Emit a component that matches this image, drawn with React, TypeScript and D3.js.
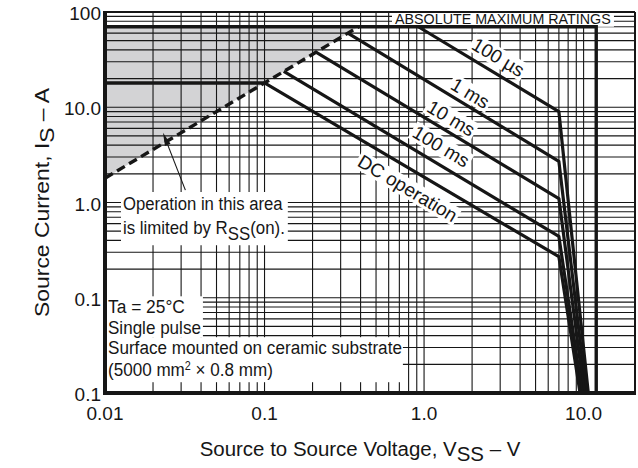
import React, { useEffect, useRef } from 'react';
import * as d3 from 'd3';

const WIDTH = 638;
const HEIGHT = 468;
const PLOT = { left: 105, right: 635, top: 12, bottom: 393 };
const FONT = '"Liberation Sans", Arial, Helvetica, sans-serif';
const INK = '#161616';

// Axis domains: source-to-source voltage (V) and source current (A)
const V_DOMAIN: [number, number] = [0.01, 21];
const I_DOMAIN: [number, number] = [0.01, 100];

const xTickValues = [0.01, 0.1, 1, 10];
const xTickLabels = ['0.01', '0.1', '1.0', '10.0'];
const yTickValues = [100, 10, 1, 0.1, 0.01];
const yTickLabels = ['100', '10.0', '1.0', '0.1', '0.1'];

// Safe operating area boundaries, points as [V_SS (V), I_S (A)]
const soa100us: [number, number][] = [[0.92, 70], [7.0, 9.0], [10.7, 0.01]];
const soa1ms: [number, number][] = [[0.333, 60], [7.0, 2.7], [10.4, 0.01]];
const soa10ms: [number, number][] = [[0.21, 37.8], [7.0, 1.1], [10.1, 0.01]];
const soa100ms: [number, number][] = [[0.132, 23.8], [7.0, 0.44], [9.8, 0.01]];
const soaDC: [number, number][] = [[0.1, 18], [7.0, 0.27], [9.5, 0.01]];
const soaCurves = [soa100us, soa1ms, soa10ms, soa100ms, soaDC];

// DC current limit from the axis to the start of the DC curve
const dcCurrentLimit: [number, number][] = [[0.01, 18], [0.1, 18]];
// On-resistance limit (dashed)
const rssLimit: [number, number][] = [[0.01, 1.8], [0.389, 70]];
// Region limited by R_SS(on)
const rssRegion: [number, number][] = [[0.01, 70], [0.01, 1.8], [0.389, 70]];
// Absolute maximum ratings: I_S = 70 A, V_SS = 12 V
const absMax: [number, number][] = [[0.01, 70], [12, 70], [12, 0.01]];

// Curve names and where they sit, as [V, I]
const curveNames = ['100 µs', '1 ms', '10 ms', '100 ms', 'DC operation'];
const curveNameAt: [number, number][] = [[2.92, 33.7], [1.95, 14.1], [1.48, 7.7], [1.28, 3.9], [0.79, 1.42]];

// Arrow pointing into the R_SS(on)-limited area, [tail, tip] as [V, I]
const arrowTail: [number, number] = [0.0319, 1.35];
const arrowTip: [number, number] = [0.0231, 5.4];

type Sel = d3.Selection<any, unknown, null, undefined>;

// Squeeze or stretch a text horizontally to a given width, about anchorX
function fitWidth(t: Sel, target: number, anchorX: number) {
  const node = t.node() as SVGTextElement;
  const w = node.getBBox().width;
  if (w > 0) {
    const s = target / w;
    t.attr('transform', `translate(${anchorX},0) scale(${s},1) translate(${-anchorX},0)`);
  }
}

// Bounding box of several elements in svg user space
function boxOf(nodes: SVGGraphicsElement[]) {
  let x0 = Infinity, y0 = Infinity, x1 = -Infinity, y1 = -Infinity;
  nodes.forEach((n) => {
    const b = n.getBBox();
    const m = n.getCTM();
    const pm = (n.ownerSVGElement as SVGSVGElement).getCTM();
    const corners = [
      [b.x, b.y], [b.x + b.width, b.y], [b.x, b.y + b.height], [b.x + b.width, b.y + b.height],
    ];
    corners.forEach(([cx, cy]) => {
      let px = cx, py = cy;
      if (m) {
        px = m.a * cx + m.c * cy + m.e;
        py = m.b * cx + m.d * cy + m.f;
        if (pm) {
          px -= pm.e;
          py -= pm.f;
        }
      }
      x0 = Math.min(x0, px); y0 = Math.min(y0, py);
      x1 = Math.max(x1, px); y1 = Math.max(y1, py);
    });
  });
  return { x0, y0, x1, y1 };
}

export default function App() {
  const ref = useRef<SVGSVGElement>(null);

  useEffect(() => {
    const svg = d3.select(ref.current as SVGSVGElement);
    svg.selectAll('*').remove();

    const x = d3.scaleLog().domain(V_DOMAIN).range([PLOT.left, PLOT.right]);
    const y = d3.scaleLog().domain(I_DOMAIN).range([PLOT.bottom, PLOT.top]);
    const line = d3.line<[number, number]>().x((d) => x(d[0])).y((d) => y(d[1]));

    svg.append('rect').attr('width', WIDTH).attr('height', HEIGHT).attr('fill', '#fff');

    // shaded R_SS(on)-limited region
    svg.append('path')
      .attr('d', line(rssRegion) + 'Z')
      .attr('fill', '#d3d3d5');

    // log grid
    const grid = svg.append('g').attr('stroke', INK).attr('stroke-width', 1.1);
    x.ticks().filter((v) => v <= 10 + 1e-9).forEach((v) => {
      grid.append('line')
        .attr('x1', x(v)).attr('x2', x(v))
        .attr('y1', PLOT.top).attr('y2', PLOT.bottom);
    });
    y.ticks().forEach((v) => {
      grid.append('line')
        .attr('x1', PLOT.left).attr('x2', PLOT.right)
        .attr('y1', y(v)).attr('y2', y(v));
    });

    const boxes = svg.append('g');
    const marks = svg.append('g');
    const texts = svg.append('g').attr('font-family', FONT).attr('fill', INK);

    // ---- annotation texts (white boxes are sized after layout) ----
    const absText = texts.append('text')
      .attr('x', 395).attr('y', 24).attr('font-size', 15)
      .text('ABSOLUTE MAXIMUM RATINGS');
    fitWidth(absText, 216, 395);
    {
      const b = boxOf([absText.node() as SVGTextElement]);
      boxes.append('rect')
        .attr('x', b.x0 - 3).attr('y', PLOT.top)
        .attr('width', b.x1 - b.x0 + 6).attr('height', y(70) - PLOT.top)
        .attr('fill', '#fff');
    }

    const op1 = texts.append('text')
      .attr('x', 123).attr('y', 210).attr('font-size', 19)
      .text('Operation in this area');
    fitWidth(op1, 160, 123);
    const op2 = texts.append('text')
      .attr('x', 123).attr('y', 234).attr('font-size', 19);
    op2.append('tspan').text('is limited by R');
    op2.append('tspan').attr('dy', 6).text('SS');
    op2.append('tspan').attr('dy', -6).text('(on).');
    fitWidth(op2, 162, 123);
    {
      const b = boxOf([op1.node() as SVGTextElement, op2.node() as SVGTextElement]);
      boxes.append('rect')
        .attr('x', b.x0 - 2).attr('y', b.y0 - 1)
        .attr('width', b.x1 - b.x0 + 5).attr('height', b.y1 - b.y0 + 2)
        .attr('fill', '#fff');
    }

    const n1 = texts.append('text').attr('x', 108).attr('y', 313).attr('font-size', 19).text('Ta = 25°C');
    fitWidth(n1, 77, 108);
    const n2 = texts.append('text').attr('x', 108).attr('y', 334).attr('font-size', 19).text('Single pulse');
    fitWidth(n2, 93, 108);
    const n3 = texts.append('text').attr('x', 108).attr('y', 354).attr('font-size', 19)
      .text('Surface mounted on ceramic substrate');
    fitWidth(n3, 294, 108);
    const n4 = texts.append('text').attr('x', 108).attr('y', 376).attr('font-size', 19);
    n4.append('tspan').text('(5000 mm');
    n4.append('tspan').attr('dy', -6).attr('font-size', 12).text('2');
    n4.append('tspan').attr('dy', 6).text(' × 0.8 mm)');
    fitWidth(n4, 165, 108);
    {
      const bA = boxOf([n1.node(), n2.node()] as SVGTextElement[]);
      const bB = boxOf([n3.node(), n4.node()] as SVGTextElement[]);
      boxes.append('rect')
        .attr('x', PLOT.left).attr('y', bA.y0)
        .attr('width', bA.x1 - PLOT.left + 2).attr('height', bB.y0 - bA.y0)
        .attr('fill', '#fff');
      boxes.append('rect')
        .attr('x', PLOT.left).attr('y', bB.y0)
        .attr('width', bB.x1 - PLOT.left + 1).attr('height', bB.y1 - bB.y0 + 2)
        .attr('fill', '#fff');
    }

    // curve names, rotated along the constant-power slope
    const angle = (Math.atan2(y(1) - y(10), x(10) - x(1)) * 180) / Math.PI;
    curveNames.forEach((name, i) => {
      const [v, c] = curveNameAt[i];
      const g = texts.append('g')
        .attr('transform', `translate(${x(v)},${y(c)}) rotate(${angle})`);
      const t = g.append('text')
        .attr('text-anchor', 'middle').attr('dy', '0.36em')
        .attr('font-size', 19).text(name);
      const b = (t.node() as SVGTextElement).getBBox();
      g.insert('rect', 'text')
        .attr('x', b.x - 2).attr('y', b.y + 1)
        .attr('width', b.width + 4).attr('height', b.height - 2)
        .attr('fill', '#fff');
    });

    // ---- curves and limits ----
    marks.append('path')
      .attr('d', line(absMax))
      .attr('fill', 'none').attr('stroke', INK).attr('stroke-width', 3.4);
    marks.append('path')
      .attr('d', line(dcCurrentLimit))
      .attr('fill', 'none').attr('stroke', INK).attr('stroke-width', 3.4);
    soaCurves.forEach((pts) => {
      marks.append('path')
        .attr('d', line(pts))
        .attr('fill', 'none').attr('stroke', INK).attr('stroke-width', 3.2)
        .attr('stroke-linejoin', 'round');
    });
    marks.append('path')
      .attr('d', line(rssLimit))
      .attr('fill', 'none').attr('stroke', INK).attr('stroke-width', 3.4)
      .attr('stroke-dasharray', '9,5');

    // arrow
    const ax0 = x(arrowTail[0]), ay0 = y(arrowTail[1]);
    const ax1 = x(arrowTip[0]), ay1 = y(arrowTip[1]);
    const len = Math.hypot(ax1 - ax0, ay1 - ay0);
    const ux = (ax1 - ax0) / len, uy = (ay1 - ay0) / len;
    const headL = 13, headW = 3;
    const bx = ax1 - ux * headL, by = ay1 - uy * headL;
    marks.append('line')
      .attr('x1', ax0).attr('y1', ay0).attr('x2', bx).attr('y2', by)
      .attr('stroke', INK).attr('stroke-width', 1.1);
    marks.append('path')
      .attr('d', `M${ax1},${ay1}L${bx - uy * headW},${by + ux * headW}L${bx + uy * headW},${by - ux * headW}Z`)
      .attr('fill', INK);

    // ---- frame ----
    const frame = svg.append('g').attr('stroke', INK).attr('fill', 'none');
    frame.append('line').attr('x1', PLOT.left).attr('x2', PLOT.right).attr('y1', PLOT.top).attr('y2', PLOT.top).attr('stroke-width', 2);
    frame.append('line').attr('x1', PLOT.right).attr('x2', PLOT.right).attr('y1', PLOT.top).attr('y2', PLOT.bottom).attr('stroke-width', 2);
    frame.append('line').attr('x1', PLOT.left).attr('x2', PLOT.left).attr('y1', PLOT.top - 1).attr('y2', PLOT.bottom + 2).attr('stroke-width', 4);
    frame.append('line').attr('x1', PLOT.left - 2).attr('x2', PLOT.right + 1).attr('y1', PLOT.bottom).attr('y2', PLOT.bottom).attr('stroke-width', 4);

    // ---- tick labels ----
    const tl = svg.append('g').attr('font-family', FONT).attr('font-size', 19).attr('fill', INK);
    yTickValues.forEach((v, i) => {
      tl.append('text')
        .attr('x', PLOT.left - 4).attr('y', y(v) + 8)
        .attr('text-anchor', 'end').text(yTickLabels[i]);
    });
    xTickValues.forEach((v, i) => {
      tl.append('text')
        .attr('x', x(v)).attr('y', 420)
        .attr('text-anchor', 'middle').text(xTickLabels[i]);
    });

    // ---- axis titles ----
    const xt = tl.append('text')
      .attr('x', 360).attr('y', 456).attr('font-size', 21).attr('text-anchor', 'middle');
    xt.append('tspan').text('Source to Source Voltage, V');
    xt.append('tspan').attr('dy', 5).text('SS');
    xt.append('tspan').attr('dy', -5).text(' – V');
    fitWidth(xt, 321, 360);

    const yg = tl.append('g').attr('transform', `translate(49,${(PLOT.top + PLOT.bottom) / 2}) rotate(-90)`);
    const yt = yg.append('text')
      .attr('x', 0).attr('y', 0).attr('font-size', 21).attr('text-anchor', 'middle');
    yt.append('tspan').text('Source Current, I');
    yt.append('tspan').attr('dy', 5).text('S');
    yt.append('tspan').attr('dy', -5).text(' – A');
    fitWidth(yt, 229, 0);
  }, []);

  return (
    <svg
      ref={ref}
      width={WIDTH}
      height={HEIGHT}
      style={{ position: 'absolute', left: 0, top: 0, display: 'block' }}
    />
  );
}
